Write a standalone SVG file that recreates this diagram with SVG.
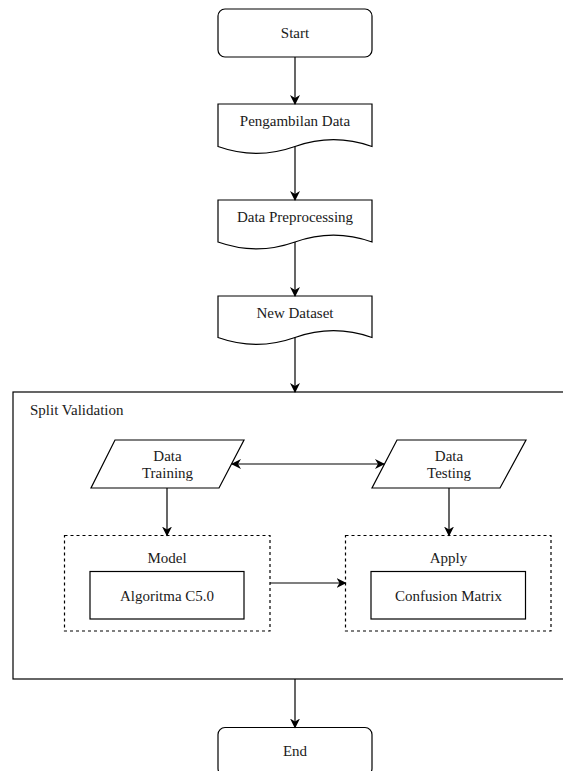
<svg xmlns="http://www.w3.org/2000/svg" width="563" height="771" viewBox="0 0 563 771">
<style>
  .shape { fill: #ffffff; stroke: #000000; stroke-width: 1.2; }
  .dash { fill: none; stroke: #000000; stroke-width: 1.2; stroke-dasharray: 3 3; }
  .edge { fill: none; stroke: #000000; stroke-width: 1.2; }
  text { font-family: "Liberation Serif", "Times New Roman", serif; font-size: 15px; fill: #1a1a1a; text-anchor: middle; }
  .left { text-anchor: start; }
</style>
<defs>
  <marker id="arrow" viewBox="0 0 10 10" refX="9" refY="5" markerWidth="10" markerHeight="10" markerUnits="userSpaceOnUse" orient="auto-start-reverse">
    <path d="M0,0 L10,5 L0,10 L3,5 z" fill="#000000"/>
  </marker>
</defs>
<rect width="563" height="771" fill="#ffffff"/>

<g id="split-validation">
  <rect class="shape" x="13" y="392" width="570" height="287"/>
  <text class="left" x="30" y="415">Split Validation</text>
</g>

<g id="start">
  <rect class="shape" x="218" y="9" width="154" height="48" rx="7" ry="7"/>
  <text x="295" y="38">Start</text>
</g>

<g id="pengambilan-data">
  <path class="shape" d="M218,104 L372,104 L372,146.5 Q333.5,132.8 295,146.5 Q256.5,160.2 218,146.5 Z"/>
  <text x="295" y="126">Pengambilan Data</text>
</g>

<g id="data-preprocessing">
  <path class="shape" d="M218,200 L372,200 L372,242 Q333.5,228.3 295,242 Q256.5,255.7 218,242 Z"/>
  <text x="295" y="222">Data Preprocessing</text>
</g>

<g id="new-dataset">
  <path class="shape" d="M218,296 L372,296 L372,337.5 Q333.5,323.8 295,337.5 Q256.5,351.2 218,337.5 Z"/>
  <text x="295" y="318">New Dataset</text>
</g>

<g id="data-training">
  <polygon class="shape" points="115,440 244,440 219,488 91,488"/>
  <text x="167.5" y="461">Data</text>
  <text x="167.5" y="478">Training</text>
</g>

<g id="data-testing">
  <polygon class="shape" points="397,440 526,440 500,488 372,488"/>
  <text x="449" y="461">Data</text>
  <text x="449" y="478">Testing</text>
</g>

<g id="model">
  <rect class="dash" x="64.5" y="535.5" width="205.5" height="95.5"/>
  <text x="167" y="563">Model</text>
  <rect class="shape" x="90" y="571.5" width="154" height="47.5"/>
  <text x="167" y="601">Algoritma C5.0</text>
</g>

<g id="apply">
  <rect class="dash" x="345.5" y="535.5" width="205.5" height="95.5"/>
  <text x="448.5" y="563">Apply</text>
  <rect class="shape" x="371" y="571.5" width="154.5" height="47.5"/>
  <text x="448.5" y="601">Confusion Matrix</text>
</g>

<g id="end">
  <rect class="shape" x="218" y="727.5" width="154" height="48" rx="7" ry="7"/>
  <text x="295" y="756">End</text>
</g>

<g id="connectors">
  <line class="edge" x1="295" y1="57" x2="295" y2="104" marker-end="url(#arrow)"/>
  <line class="edge" x1="295" y1="146.5" x2="295" y2="200" marker-end="url(#arrow)"/>
  <line class="edge" x1="295" y1="242" x2="295" y2="296" marker-end="url(#arrow)"/>
  <line class="edge" x1="295" y1="337.5" x2="295" y2="392" marker-end="url(#arrow)"/>
  <line class="edge" x1="232" y1="464" x2="384" y2="464" marker-start="url(#arrow)" marker-end="url(#arrow)"/>
  <line class="edge" x1="167" y1="488" x2="167" y2="535.5" marker-end="url(#arrow)"/>
  <line class="edge" x1="449" y1="488" x2="449" y2="535.5" marker-end="url(#arrow)"/>
  <line class="edge" x1="270" y1="583" x2="345.5" y2="583" marker-end="url(#arrow)"/>
  <line class="edge" x1="295" y1="679" x2="295" y2="727.5" marker-end="url(#arrow)"/>
</g>
</svg>
